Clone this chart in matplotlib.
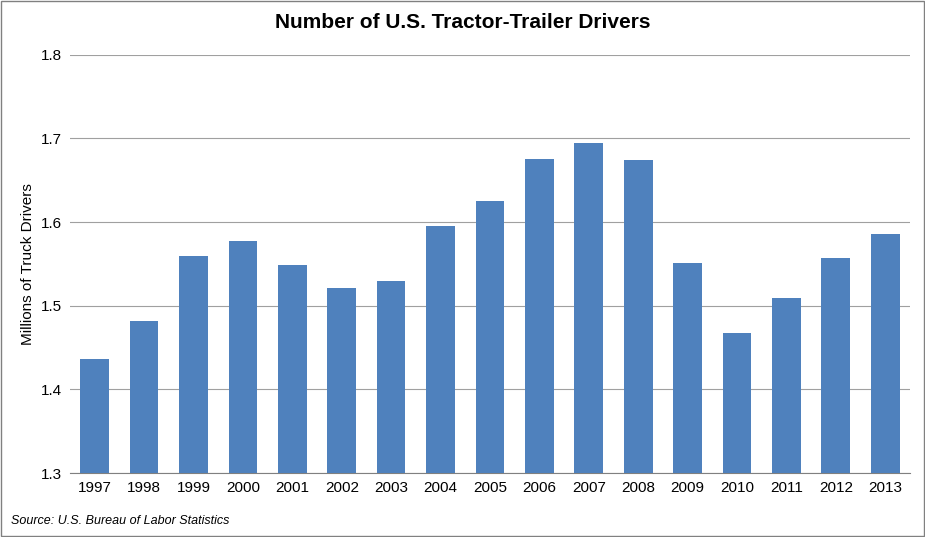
import matplotlib
matplotlib.use("Agg")
import matplotlib.pyplot as plt
from matplotlib.patches import Rectangle

years = ["1997","1998","1999","2000","2001","2002","2003","2004","2005","2006","2007","2008","2009","2010","2011","2012","2013"]
drivers = [1.436,1.482,1.560,1.578,1.549,1.521,1.530,1.595,1.625,1.676,1.695,1.674,1.551,1.467,1.509,1.557,1.586]
yticks = [1.3,1.4,1.5,1.6,1.7,1.8]

plt.rcParams['font.family'] = ['Liberation Sans', 'DejaVu Sans']
fig = plt.figure(figsize=(9.25,5.37), dpi=100)
ax = fig.add_axes([0.0757,0.119,0.908,0.779])
x = range(len(years))
ax.bar(x, drivers, width=0.58, color='#4f81bd', zorder=3)
ax.set_ylim(1.3,1.8)
ax.set_xlim(-0.5,len(years)-0.5)
ax.set_yticks(yticks)
ax.set_yticklabels([f"{t:.1f}" for t in yticks], fontsize=11)
ax.set_xticks(list(x))
ax.set_xticklabels(years, fontsize=11)
ax.yaxis.grid(True, color='#a0a0a0', linewidth=0.8, zorder=0)
for s in ['top','right','left']:
    ax.spines[s].set_visible(False)
ax.spines['bottom'].set_color('#808080')
ax.tick_params(axis='both', length=0, pad=6)
ax.set_ylabel("Millions of Truck Drivers", fontsize=11)
fig.suptitle("Number of U.S. Tractor-Trailer Drivers", fontsize=15, fontweight='bold', y=0.975)
fig.text(0.012,0.025,"Source: U.S. Bureau of Labor Statistics", fontsize=9, style='italic')
fig.patches.append(Rectangle((0.001,0.001),0.998,0.998, transform=fig.transFigure, fill=False, edgecolor='#808080', linewidth=1))
fig.savefig("out.png", dpi=100)
